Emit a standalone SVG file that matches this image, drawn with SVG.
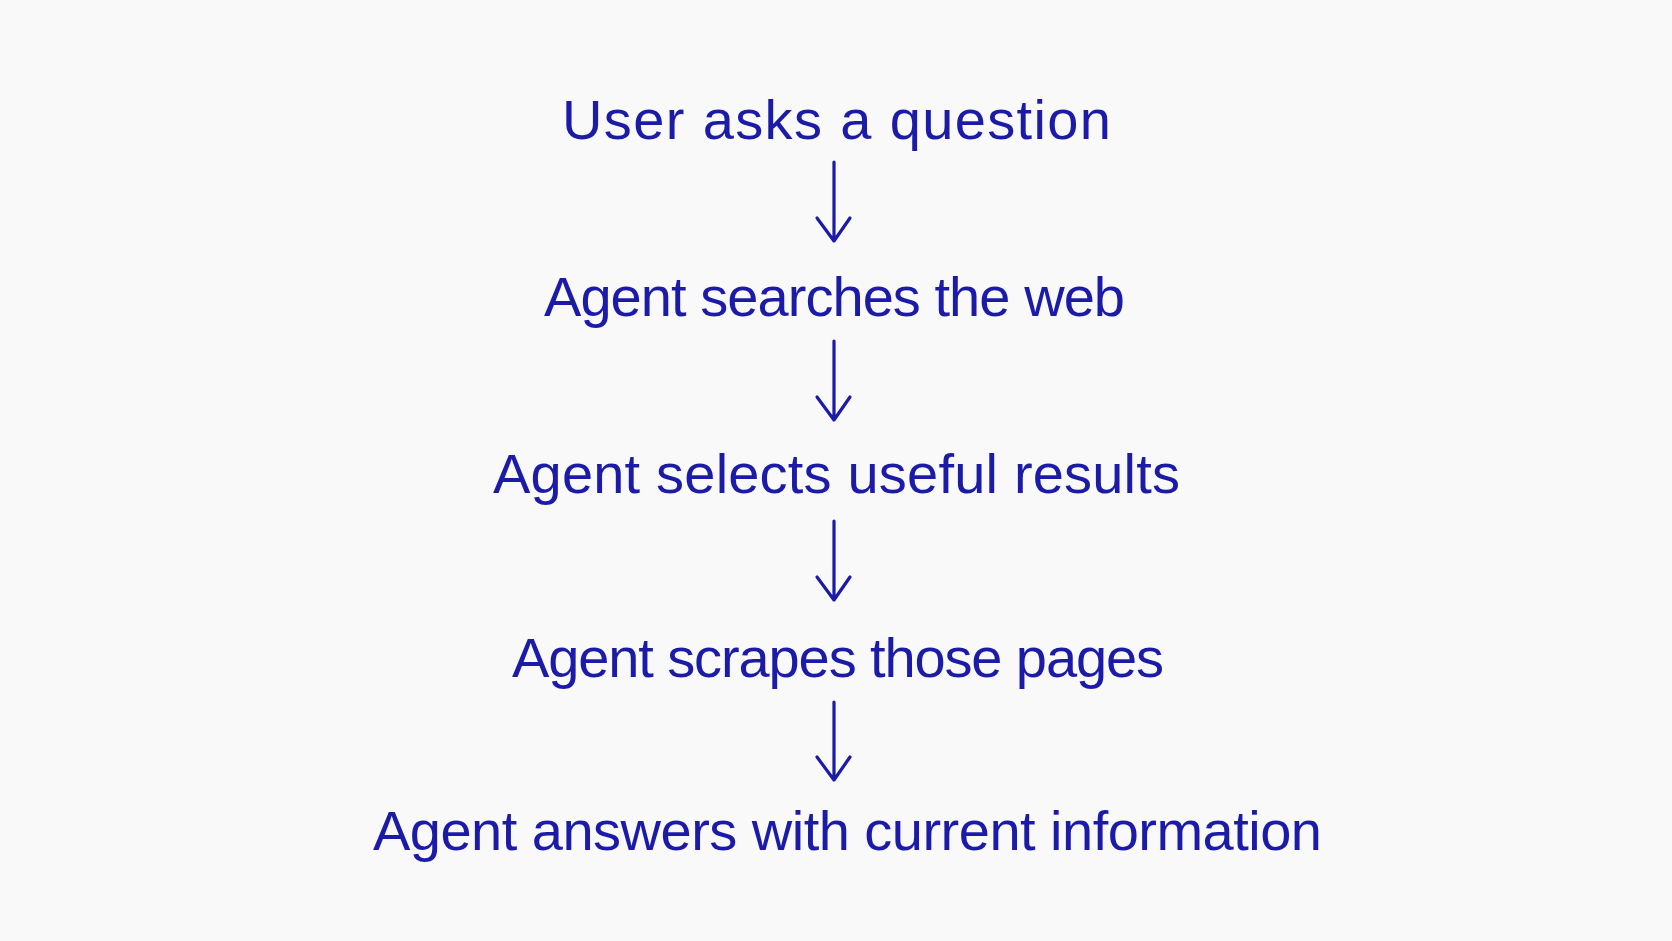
<svg xmlns="http://www.w3.org/2000/svg" width="1672" height="941" viewBox="0 0 1672 941">
  <defs>
    <style>
      .lbl { font-family: "Liberation Sans", Arial, sans-serif; font-size: 56px; fill: #1b1ba8; }
      .conn { stroke: #1b1ba8; stroke-width: 3.2; fill: none; stroke-linecap: round; stroke-linejoin: round; }
    </style>
  </defs>
  <rect x="0" y="0" width="1672" height="941" fill="#f9f9f9"/>
  <g id="node-1"><text class="lbl" x="562" y="139" textLength="549" lengthAdjust="spacing">User asks a question</text></g>
  <g id="node-2"><text class="lbl" x="544" y="316" textLength="581" lengthAdjust="spacing">Agent searches the web</text></g>
  <g id="node-3"><text class="lbl" x="493" y="493" textLength="687" lengthAdjust="spacing">Agent selects useful results</text></g>
  <g id="node-4"><text class="lbl" x="512" y="677" textLength="652" lengthAdjust="spacing">Agent scrapes those pages</text></g>
  <g id="node-5"><text class="lbl" x="373" y="850" textLength="949" lengthAdjust="spacing">Agent answers with current information</text></g>
  <g id="connectors">
    <path class="conn" d="M834 162 L834 241 M817 218 L834 241 L850 218"/>
    <path class="conn" d="M834 341 L834 420 M817 397 L834 420 L850 397"/>
    <path class="conn" d="M834 521 L834 600 M817 577 L834 600 L850 577"/>
    <path class="conn" d="M834 702 L834 780 M817 757 L834 780 L850 757"/>
  </g>
</svg>
